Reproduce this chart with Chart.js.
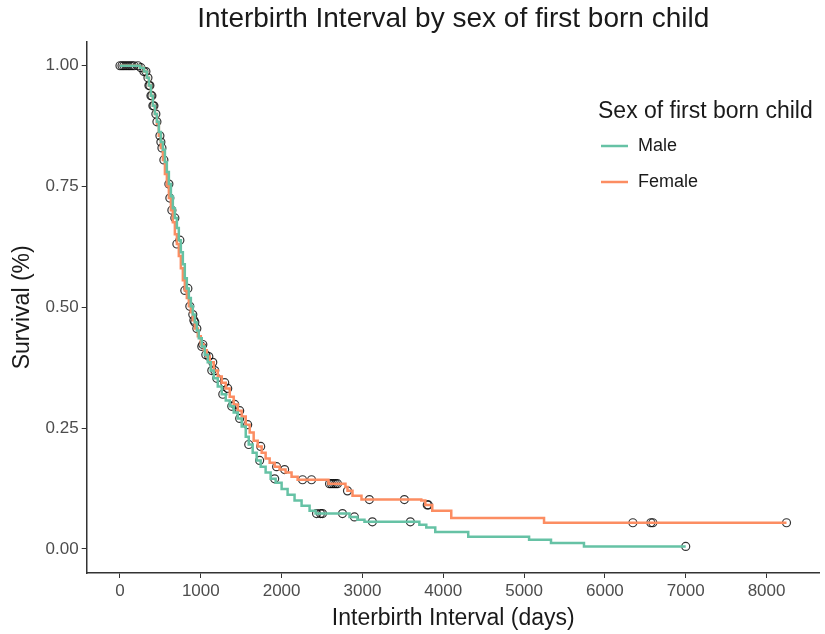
<!DOCTYPE html>
<html>
<head>
<meta charset="utf-8">
<script src="https://cdn.jsdelivr.net/npm/chart.js@4"></script>
<style>
  html, body { margin: 0; padding: 0; background: #fff; }
  #wrap { width: 825px; height: 634px; }
</style>
</head>
<body>
<div id="wrap"><canvas id="km"></canvas></div>
<script>
// Kaplan-Meier curves (days, survival)
const maleDays = [0, 198, 247, 296, 333, 358, 383, 407, 432, 457, 481, 506, 531, 556, 580, 605, 630, 654, 679, 704, 728, 753, 778, 802, 827, 852, 877, 901, 926, 951, 975, 1012, 1049, 1086, 1123, 1160, 1210, 1259, 1309, 1358, 1407, 1457, 1506, 1556, 1593, 1642, 1691, 1741, 1802, 1864, 1926, 2000, 2074, 2160, 2247, 2346, 2420, 2840, 2938, 3025, 3704, 3790, 3901, 4309, 5062, 5333, 5741, 7000];
const maleSurv = [1.000, 1.000, 0.996, 0.988, 0.975, 0.959, 0.938, 0.917, 0.900, 0.884, 0.863, 0.842, 0.826, 0.801, 0.780, 0.755, 0.730, 0.705, 0.685, 0.664, 0.639, 0.614, 0.589, 0.560, 0.539, 0.519, 0.502, 0.485, 0.469, 0.452, 0.436, 0.419, 0.402, 0.386, 0.369, 0.353, 0.336, 0.320, 0.307, 0.295, 0.282, 0.270, 0.253, 0.232, 0.216, 0.199, 0.183, 0.170, 0.158, 0.145, 0.137, 0.124, 0.112, 0.100, 0.089, 0.079, 0.073, 0.066, 0.060, 0.056, 0.050, 0.044, 0.035, 0.025, 0.019, 0.012, 0.005, 0.005];

const femaleDays = [0, 198, 247, 296, 333, 358, 383, 407, 432, 457, 481, 506, 531, 556, 580, 605, 630, 654, 679, 704, 728, 753, 778, 802, 827, 852, 877, 901, 926, 963, 1000, 1037, 1074, 1111, 1160, 1210, 1259, 1309, 1358, 1407, 1457, 1506, 1556, 1605, 1654, 1704, 1753, 1802, 1852, 1914, 1975, 2049, 2123, 2198, 2580, 2790, 2815, 2877, 2988, 3728, 3778, 3864, 4099, 5247, 8247];
const femaleSurv = [1.000, 1.000, 0.996, 0.988, 0.975, 0.959, 0.938, 0.917, 0.900, 0.880, 0.855, 0.830, 0.805, 0.776, 0.751, 0.726, 0.701, 0.676, 0.651, 0.631, 0.606, 0.581, 0.556, 0.535, 0.519, 0.502, 0.490, 0.473, 0.456, 0.440, 0.423, 0.411, 0.398, 0.386, 0.369, 0.357, 0.344, 0.332, 0.315, 0.299, 0.286, 0.274, 0.257, 0.241, 0.224, 0.212, 0.199, 0.187, 0.178, 0.170, 0.164, 0.158, 0.149, 0.143, 0.135, 0.128, 0.120, 0.110, 0.102, 0.100, 0.091, 0.079, 0.064, 0.054, 0.054];

// censored observations (days)
const maleCensor = [0, 49, 99, 148, 222, 296, 346, 370, 395, 420, 457, 506, 605, 679, 741, 840, 901, 926, 1012, 1062, 1136, 1198, 1272, 1383, 1481, 1593, 1728, 1914, 2432, 2481, 2506, 2753, 2901, 3123, 3593, 7000];
const femaleCensor = [25, 74, 123, 173, 259, 321, 358, 383, 407, 444, 494, 519, 543, 617, 642, 704, 802, 864, 914, 951, 1025, 1099, 1148, 1173, 1296, 1333, 1420, 1481, 1580, 1741, 1938, 2037, 2259, 2370, 2593, 2617, 2642, 2667, 2691, 2815, 3086, 3519, 3802, 3815, 6346, 6568, 6593, 8247];

const xTicks = [0, 1000, 2000, 3000, 4000, 5000, 6000, 7000, 8000];
const yTicks = [0, 0.25, 0.5, 0.75, 1];

const MALE = "#66C2A5";
const FEMALE = "#FC8D62";
const FONT = "'Liberation Sans', Arial, sans-serif";

function curve(days, surv) {
	return days.map((d, i) => ({ x: d, y: surv[i] }));
}

// place a censor mark on its own step curve
function marks(censor, days, surv) {
	return censor.map((t) => {
		let s = surv[0];
		for (let i = 0; i < days.length; i++) {
			if (days[i] <= t) s = surv[i];
		}
		return { x: t, y: s };
	});
}

const legendBox = {
	id: "legendBox",
	afterDraw(chart) {
		const ctx = chart.ctx;
		ctx.save();
		ctx.fillStyle = "#1a1a1a";
		ctx.font = "23px " + FONT;
		ctx.textBaseline = "middle";
		ctx.fillText("Sex of first born child", 598, 112);
		const items = chart.data.datasets.filter((d) => d.inLegend);
		items.forEach((d, i) => {
			const y = 146 + i * 36;
			ctx.strokeStyle = d.borderColor;
			ctx.lineWidth = 2.5;
			ctx.beginPath();
			ctx.moveTo(601, y);
			ctx.lineTo(628, y);
			ctx.stroke();
			ctx.fillStyle = "#1a1a1a";
			ctx.font = "18px " + FONT;
			ctx.fillText(d.label, 638, y);
		});
		ctx.restore();
	},
};

const censorStyle = {
	type: "scatter",
	showLine: false,
	pointRadius: 4,
	pointHoverRadius: 4,
	pointBorderWidth: 1.2,
	pointBorderColor: "rgba(0,0,0,0.8)",
	pointBackgroundColor: "rgba(0,0,0,0)",
};

new Chart(document.getElementById("km"), {
	type: "line",
	data: {
		datasets: [
			{
				label: "Male",
				inLegend: true,
				data: curve(maleDays, maleSurv),
				borderColor: MALE,
				borderWidth: 2.5,
				stepped: true,
				pointRadius: 0,
				fill: false,
			},
			{
				label: "Female",
				inLegend: true,
				data: curve(femaleDays, femaleSurv),
				borderColor: FEMALE,
				borderWidth: 2.5,
				stepped: true,
				pointRadius: 0,
				fill: false,
			},
			Object.assign({ label: "Male censored", data: marks(maleCensor, maleDays, maleSurv) }, censorStyle),
			Object.assign({ label: "Female censored", data: marks(femaleCensor, femaleDays, femaleSurv) }, censorStyle),
		],
	},
	options: {
		responsive: true,
		maintainAspectRatio: false,
		animation: false,
		layout: { padding: { left: 9, right: 5, top: 2, bottom: 2 } },
		plugins: {
			legend: { display: false },
			tooltip: { enabled: false },
			title: {
				display: true,
				fullSize: false,
				text: "Interbirth Interval by sex of first born child",
				color: "#1a1a1a",
				font: { family: FONT, size: 28, weight: "normal" },
				padding: { top: 0, bottom: 6 },
			},
		},
		scales: {
			x: {
				type: "linear",
				min: -412,
				max: 8659,
				afterBuildTicks: (scale) => {
					scale.ticks = xTicks.map((v) => ({ value: v }));
				},
				grid: { drawOnChartArea: false, drawTicks: true, tickLength: 5, color: "#333" },
				border: { color: "#333", width: 1.5 },
				ticks: {
					color: "#4d4d4d",
					font: { family: FONT, size: 17 },
					padding: 3,
					maxRotation: 0,
					callback: (v) => String(v),
				},
				title: {
					display: true,
					text: "Interbirth Interval (days)",
					color: "#1a1a1a",
					font: { family: FONT, size: 23 },
					padding: { top: 0, bottom: 0 },
				},
			},
			y: {
				type: "linear",
				min: -0.05,
				max: 1.05,
				afterBuildTicks: (scale) => {
					scale.ticks = yTicks.map((v) => ({ value: v }));
				},
				grid: { drawOnChartArea: false, drawTicks: true, tickLength: 5, color: "#333" },
				border: { color: "#333", width: 1.5 },
				ticks: {
					color: "#4d4d4d",
					font: { family: FONT, size: 17 },
					padding: 3,
					callback: (v) => v.toFixed(2),
				},
				title: {
					display: true,
					text: "Survival (%)",
					color: "#1a1a1a",
					font: { family: FONT, size: 23 },
					padding: { top: 0, bottom: 6 },
				},
			},
		},
	},
	plugins: [legendBox],
});
</script>
</body>
</html>
